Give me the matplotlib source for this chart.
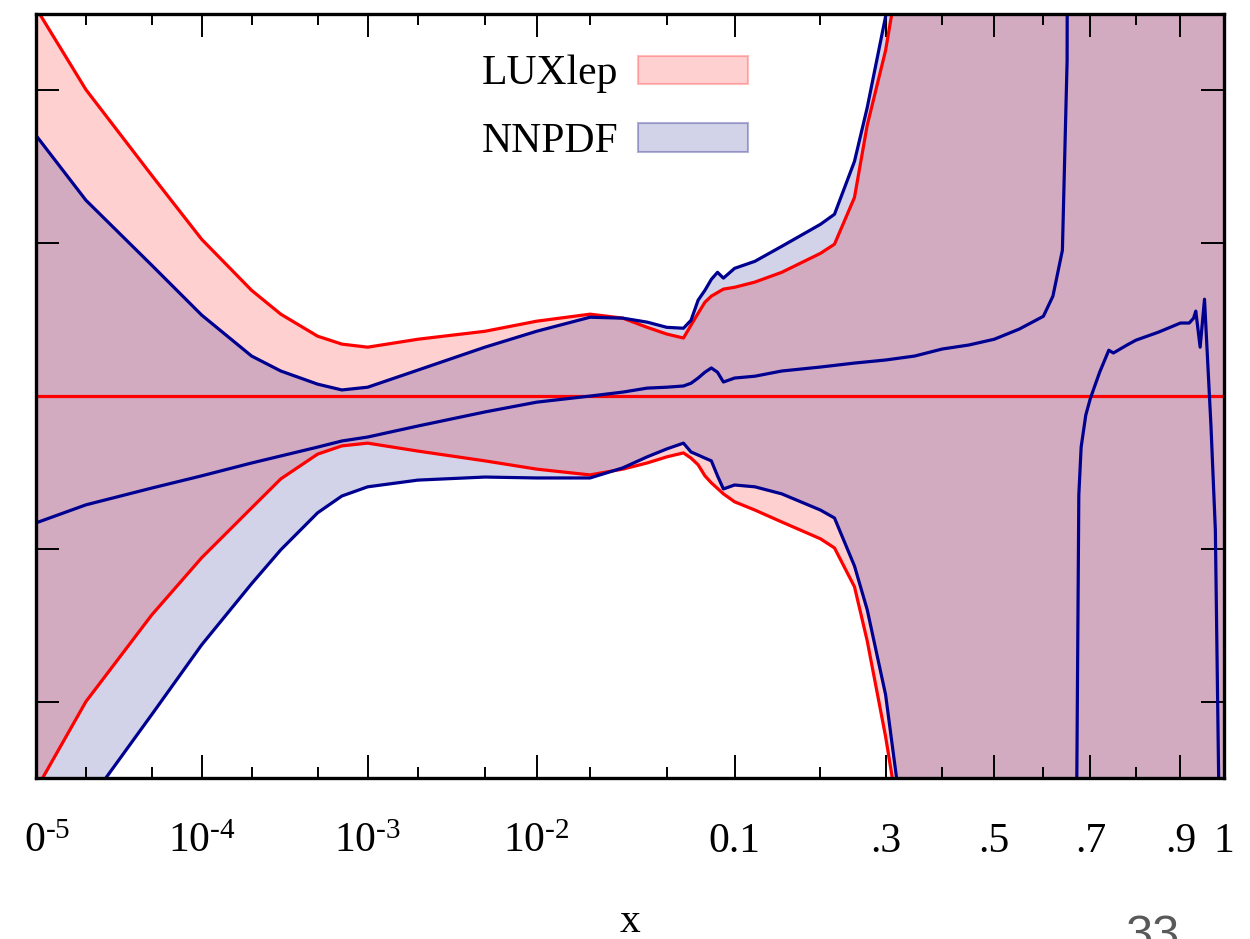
import numpy as np
import matplotlib
matplotlib.use('Agg')
import matplotlib.pyplot as plt
from matplotlib.patches import Patch

plt.rcParams['font.family'] = ['Liberation Serif', 'DejaVu Serif']
plt.rcParams['mathtext.fontset'] = 'custom'
plt.rcParams['mathtext.rm'] = 'Liberation Serif'
plt.rcParams['mathtext.default'] = 'regular'

# LUXlep band (ratio to LUXlep central)
x_lux = [1e-5, 2e-5, 5e-5, 1e-4, 2e-4, 3e-4, 5e-4, 7e-4, 1e-3, 2e-3, 5e-3,
         1e-2, 2e-2, 3e-2, 4e-2, 5e-2, 0.06, 0.065, 0.07, 0.075, 0.08, 0.09,
         0.1, 0.12, 0.15, 0.2, 0.22, 0.25, 0.27, 0.3, 0.32, 0.35, 1.0]
lux_hi = [1.127, 1.1003, 1.0722, 1.0513, 1.0346, 1.0268, 1.0196, 1.0170, 1.0160,
          1.0186, 1.0212, 1.0245, 1.0268, 1.0255, 1.0225, 1.0203, 1.0190, 1.0232,
          1.0271, 1.0307, 1.0327, 1.0350, 1.0356, 1.0373, 1.0405, 1.0467, 1.0497,
          1.0650, 1.0886, 1.1131, 1.1359, 1.3, 1.3]
lux_lo = [0.8712, 0.9000, 0.9284, 0.9471, 0.9634, 0.9729, 0.9810, 0.9837, 0.9846,
          0.9820, 0.9788, 0.9761, 0.9742, 0.9761, 0.9781, 0.9801, 0.9814, 0.9797,
          0.9775, 0.9739, 0.9716, 0.9680, 0.9654, 0.9627, 0.9588, 0.9533, 0.9503,
          0.9376, 0.9199, 0.8886, 0.8647, 0.7, 0.7]

# NNPDF band
x_nn = [1e-5, 2e-5, 5e-5, 1e-4, 2e-4, 3e-4, 5e-4, 7e-4, 1e-3, 2e-3, 5e-3,
        1e-2, 2e-2, 3e-2, 4e-2, 5e-2, 0.06, 0.065, 0.07, 0.075, 0.08, 0.085,
        0.09, 0.1, 0.12, 0.15, 0.2, 0.22, 0.25, 0.27, 0.3, 0.32, 0.35, 1.0]
nn_hi = [1.0853, 1.0641, 1.0428, 1.0265, 1.0131, 1.0082, 1.0039, 1.0020, 1.0029,
         1.0085, 1.0160, 1.0212, 1.0258, 1.0255, 1.0242, 1.0225, 1.0222, 1.0248,
         1.0314, 1.0346, 1.0382, 1.0405, 1.0386, 1.0418, 1.0441, 1.0490, 1.0562,
         1.0595, 1.0768, 1.0944, 1.1242, 1.15, 1.3, 1.3]
nn_lo = [0.8435, 0.8660, 0.8958, 0.9186, 0.9386, 0.9497, 0.9618, 0.9673, 0.9703,
         0.9725, 0.9735, 0.9732, 0.9732, 0.9765, 0.9801, 0.9827, 0.9846, 0.9817,
         0.9807, 0.9797, 0.9788, 0.9739, 0.9696, 0.9709, 0.9703, 0.9680, 0.9627,
         0.9601, 0.9444, 0.9301, 0.9023, 0.8729, 0.7, 0.7]

# NNPDF central value (nan = pole of the ratio)
x_mid = [1e-5, 2e-5, 5e-5, 1e-4, 2e-4, 3e-4, 5e-4, 7e-4, 1e-3, 2e-3, 5e-3,
         1e-2, 2e-2, 3e-2, 4e-2, 5e-2, 0.06, 0.065, 0.07, 0.075, 0.08, 0.085,
         0.09, 0.1, 0.12, 0.15, 0.2, 0.25, 0.3, 0.35, 0.4, 0.45, 0.5, 0.55, 0.6,
         0.62, 0.64, 0.65, 0.655, 0.66, 0.665, 0.67, 0.675, 0.68, 0.69, 0.7,
         0.72, 0.74, 0.75, 0.78, 0.8, 0.85, 0.9, 0.92, 0.93, 0.935, 0.945,
         0.955, 0.97, 0.98, 0.99, 1.0]
nn_mid = [0.9585, 0.9644, 0.9699, 0.9739, 0.9781, 0.9804, 0.9833, 0.9853, 0.9866,
          0.9902, 0.9948, 0.9980, 1.0000, 1.0013, 1.0026, 1.0029, 1.0033, 1.0042,
          1.0059, 1.0078, 1.0092, 1.0078, 1.0046, 1.0059, 1.0065, 1.0082, 1.0095,
          1.0108, 1.0118, 1.0131, 1.0154, 1.0167, 1.0186, 1.0219, 1.0261, 1.0327,
          1.0477, 1.1098, 1.5, np.nan, 0.5, 0.86, 0.9676, 0.9833, 0.9938, 0.9993,
          1.0078, 1.0150, 1.0141, 1.0167, 1.0183, 1.0209, 1.0239, 1.0239, 1.0255,
          1.0278, 1.0160, 1.0317, 0.9899, 0.9562, 0.85, 0.8]

major_ticks = [1e-5, 1e-4, 1e-3, 1e-2, 0.1, 0.3, 0.5, 0.7, 0.9, 1.0]
major_labels = ['', '10$^{\u20104}$', '10$^{\u20103}$', '10$^{\u20102}$',
                '0.1', '.3', '.5', '.7', '.9', '1']
minor_ticks = [2e-5, 5e-5, 2e-4, 5e-4, 2e-3, 5e-3, 2e-2, 5e-2, 0.2, 0.4, 0.6, 0.8]
y_ticks = [0.9, 0.95, 1.0, 1.05, 1.1]


def fwd(x):
    x = np.clip(np.asarray(x, dtype=float), 1e-300, None)
    return np.log(x) + 5.0 * x


_grid = np.logspace(-15, 0.5, 40000)


def inv(y):
    return np.interp(y, fwd(_grid), _grid)


fig = plt.figure(figsize=(12.5, 9.39), dpi=100)
ax = fig.add_axes([0.0288, 0.1714, 0.9504, 0.8136])
ax.set_xscale('function', functions=(fwd, inv))

red = '#ff0000'
navy = '#000090'
lw = 2.3
ax.fill_between(x_lux, lux_lo, lux_hi, facecolor=red, alpha=0.185, linewidth=0)
ax.plot(x_lux, lux_hi, color=red, lw=lw)
ax.plot(x_lux, lux_lo, color=red, lw=lw)
ax.axhline(1.0, color=red, lw=lw)

ax.fill_between(x_nn, nn_lo, nn_hi, facecolor='#00007d', alpha=0.176, linewidth=0)
ax.plot(x_nn, nn_hi, color=navy, lw=lw)
ax.plot(x_nn, nn_lo, color=navy, lw=lw)
ax.plot(x_mid, nn_mid, color=navy, lw=lw)

ax.set_xlim(1e-5, 1.0)
ax.set_ylim(0.875, 1.125)
ax.set_xticks(major_ticks, major_labels)
ax.set_xticks(minor_ticks, minor=True)
ax.set_yticks(y_ticks)
ax.tick_params(which='both', direction='in', top=True, right=True, width=1.4,
               labelsize=30, pad=53.3, labelleft=False)
ax.tick_params(which='major', length=16.6)
ax.tick_params(which='minor', length=7.9)
for lab in ax.get_xticklabels():
    lab.set_verticalalignment('baseline')
for sp in ax.spines.values():
    sp.set_linewidth(2.4)

ax.annotate('0$^{\u20105}$', xy=(1e-5, 0), xycoords=('data', 'axes fraction'),
            xytext=(7.9, -53.3), textcoords='offset points', ha='center',
            va='baseline', fontsize=30, annotation_clip=False)

ax.set_xlabel('x', fontsize=30)
ax.xaxis.set_label_coords(0.5, -0.2015)
ax.xaxis.label.set_verticalalignment('baseline')

handles = [Patch(facecolor=(1, 0, 0, 0.185), edgecolor=(1, 0, 0, 0.25), lw=1.5, label='LUXlep'),
           Patch(facecolor=(0, 0, 0.49, 0.176), edgecolor=(0, 0, 0.49, 0.3), lw=1.5, label='NNPDF')]
ax.legend(handles=handles, loc='center', bbox_to_anchor=(0.487, 0.877), frameon=False,
          fontsize=30, markerfirst=False, handlelength=2.64, handleheight=0.67,
          handletextpad=0.46, labelspacing=0.70, borderpad=0)

fig.text(1152 / 1250, -0.0106, '33', fontsize=35, color='#595959',
         family='Liberation Sans', ha='center', va='baseline')

fig.savefig('out.png', dpi=100)
